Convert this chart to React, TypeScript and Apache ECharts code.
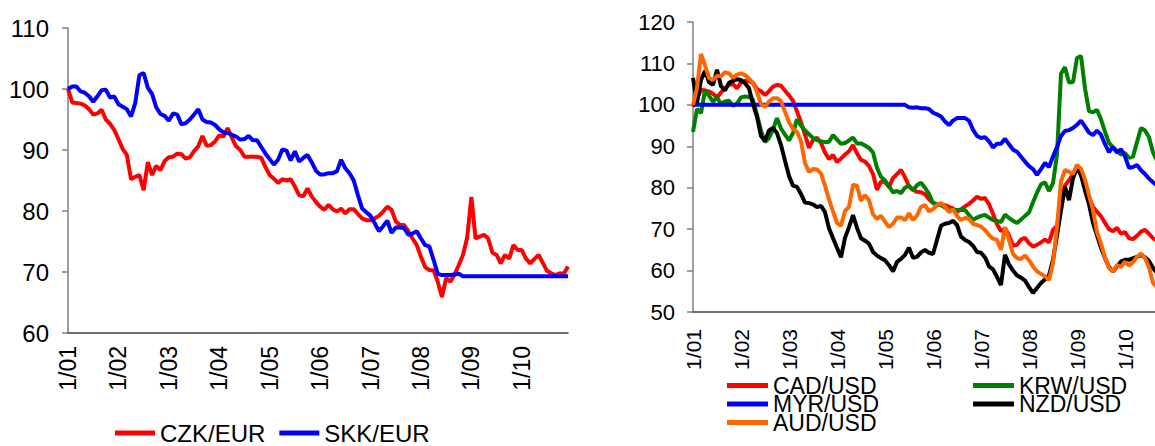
import React, { useEffect, useRef } from "react";
import * as echarts from "echarts";

// Monthly categories Jan 2001 .. Dec 2010
const years = ["01", "02", "03", "04", "05", "06", "07", "08", "09", "10"];
const months = years.flatMap((y) => Array.from({ length: 12 }, (_, m) => `${m + 1}/${y}`));

const czkEur = [
  100, 97.8, 97.7, 97.6, 97.3, 96.7, 95.8, 96, 96.6, 95, 94.3, 93.3,
  91.8, 90.2, 89.2, 85.2, 85.6, 85.9, 83.4, 88, 85.9, 87.4, 86.7, 88.2,
  88.8, 88.9, 89.4, 89.3, 88.6, 88.8, 89.8, 90.6, 92.3, 90.7, 90.8, 91.4,
  92.4, 92.2, 93.6, 92, 90.6, 90, 88.9, 88.9, 88.9, 88.9, 88.7, 87.2,
  85.9, 85.3, 84.6, 85.2, 85, 85.2, 84, 82.6, 82.4, 83.7, 82.4, 81.5,
  80.7, 80.2, 81, 80.3, 79.9, 80.4, 79.6, 80.3, 80.3, 79.5, 78.8, 78.5,
  78.5, 78.8, 79.2, 79.9, 80.7, 80.2, 78.3, 77.7, 77.7, 76.7, 75.5, 74.4,
  72.5, 70.8, 70.3, 70.3, 68.4, 65.9, 69, 68.4, 69.6, 71.1, 72.8, 75.6,
  82.3, 75.5, 75.8, 76.1, 75.5, 73.2, 72.8, 71.4, 72.8, 72.2, 74.4, 73.6,
  73.6, 72.2, 71.4, 72.1, 72.8, 71.5, 70.2, 69.8, 69.5, 69.8, 69.7, 70.9,
];
const skkEur = [
  100, 100.4, 100.4, 99.6, 99.4, 98.8, 97.9, 98.8, 99.8, 99.9, 98.6, 98.8,
  97.5, 97.1, 96.7, 95.5, 97.7, 102.3, 102.6, 100.2, 99.2, 97, 95.9, 95.6,
  94.8, 96, 95.8, 94.2, 94.4, 95, 95.8, 96.7, 95, 94.6, 94.5, 94.1,
  93.4, 92.9, 92.8, 92.5, 92.2, 91.7, 91.8, 92.3, 91.6, 91.6, 90.5, 89.4,
  88.5, 87.6, 88.4, 90.1, 89.9, 88.3, 89.8, 88.1, 88.7, 89.2, 88, 86.6,
  86, 86, 86.2, 86.2, 86.5, 88.4, 87, 86.2, 85, 82.6, 80.4, 79.8,
  79.2, 78, 76.7, 77.5, 78.4, 76.4, 77.3, 77.3, 77.2, 76.1, 76.3, 76.7,
  75.5, 74.4, 74.2, 72, 69.7, 69.5, 69.5, 69.5, 69.6, 69.7, 69.3, 69.3,
  69.3, 69.3, 69.3, 69.3, 69.3, 69.3, 69.3, 69.3, 69.3, 69.3, 69.3, 69.3,
  69.3, 69.3, 69.3, 69.3, 69.3, 69.3, 69.3, 69.3, 69.3, 69.3, 69.3, 69.3,
];

const cadUsd = [
  99.5, 101.5, 103.6, 103.5, 103.2, 102.7, 101.8, 103, 104, 104.8, 105, 104,
  105.4, 105.8, 105.7, 105.3, 103.8, 103.3, 102.4, 103.3, 104.4, 104.8, 104.6, 103.4,
  102.3, 101, 98.4, 95.8, 92.8, 89.6, 91.5, 92.1, 90.8, 88.5, 86.9, 87.9,
  86.2, 87, 88, 88.8, 90.3, 88.3, 86.7, 86.3, 85.2, 83.3, 79.5, 81.5,
  81.4, 80.2, 82.3, 83.3, 84.3, 82.5, 80.3, 79.5, 79, 78.9, 78.4, 77.2,
  76.3, 76.1, 75.9, 75.8, 75.4, 75, 74.2, 74.8, 75.5, 76.1, 76.9, 77.8,
  77.3, 77.5, 76, 73.7, 71.2, 69.5, 70.2, 68.5, 66, 66.2, 67.5, 67.9,
  66.6, 65.8, 66.2, 66.8, 67.5, 66.8, 69.8, 70.8, 77, 80.5, 81.8, 83.3,
  85.2, 83, 81, 77.8, 75.3, 74.2, 73.1, 71.5, 70, 69.5, 70.3, 68.9,
  69.3, 67.8, 67.6, 68.4, 69.4, 69.8, 68.9, 67.8, 67.2, 67, 67.5, 68,
];
const krwUsd = [
  93.5, 99, 98, 103.5, 102.2, 100.8, 101.8, 100.2, 100.8, 101, 99.8, 100.3,
  101.8, 102, 101.9, 101.2, 97.6, 93.8, 91, 92, 94, 96.8, 94.3, 92.8,
  91.4, 93.2, 96.5, 95, 93.8, 92.9, 92, 91.5, 91.2, 91, 91.1, 92.7,
  91.6, 90.6, 90.8, 91.4, 92.1, 90.7, 90.7, 90.2, 89.6, 88.5, 84.8, 82.6,
  81.8, 80.3, 78.9, 79.2, 78.7, 80, 80.5, 79.4, 80.6, 81.2, 80, 78.5,
  76.3, 76, 75.8, 75.2, 74.6, 74.6, 74.6, 74.6, 74.6, 73.4, 72.2, 72.8,
  73.2, 73.4, 72.8, 72.2, 72, 71.7, 73.5, 72.7, 72, 71.5, 72.3, 73.2,
  74, 76.5, 78.8, 80.8, 81.3, 79.2, 81.1, 88, 107.5, 109.1, 105.4, 105.5,
  111.3, 111.8, 104, 98.5, 98.2, 98.8, 96.5, 93.5, 90.8, 89.8, 88.8, 88,
  88.4, 87.2, 87.5, 91, 94.4, 93.8, 92.2, 88.5, 86.5, 86, 85.5, 85,
];
const myrUsd = [
  100, 100, 100, 100, 100, 100, 100, 100, 100, 100, 100, 100,
  100, 100, 100, 100, 100, 100, 100, 100, 100, 100, 100, 100,
  100, 100, 100, 100, 100, 100, 100, 100, 100, 100, 100, 100,
  100, 100, 100, 100, 100, 100, 100, 100, 100, 100, 100, 100,
  100, 100, 100, 100, 100, 100, 99.4, 99.3, 99.4, 99.2, 99.2, 99,
  98.1, 97.7, 97.2, 96, 95.1, 96.2, 96.8, 96.8, 96.8, 96.2, 94, 92.5,
  92, 92.2, 91.2, 89.7, 90.6, 90.6, 91.8, 90.5, 89.2, 88.7, 87.5, 86.3,
  85.2, 84.5, 83.1, 84.5, 86, 85, 87.5, 89.8, 92.5, 93.7, 93.9, 94.4,
  95.2, 96.2, 94.8, 93.3, 92.7, 93.8, 92.8, 90.5, 88.6, 89.8, 88.5, 89.3,
  87.5, 84.8, 85, 85.5, 84.2, 83.3, 82.2, 81.3, 80.5, 80, 80.2, 80.5,
];
const nzdUsd = [
  106.5, 100.5, 106, 108.2, 105.5, 104.8, 108.5, 104.5, 103.5, 105.3, 105.8, 106.2,
  106, 105.2, 104, 100.2, 97.1, 92.5, 91.3, 93.8, 94.4, 93.2, 90.3, 86.5,
  82.8, 80.5, 80.2, 78.5, 76.4, 76.3, 76, 75.3, 75.6, 74.1, 70.2, 67.8,
  65.5, 63.2, 67.9, 70.5, 73.4, 70.3, 67.8, 67.2, 66.5, 64.5, 63.6, 63,
  62.5, 61.3, 59.8, 62.1, 62.8, 63.8, 65.5, 63.1, 63.3, 64.4, 65, 64.3,
  64, 67.4, 70.8, 71.3, 71.5, 72, 71, 68.2, 67.4, 66.9, 66, 64.5,
  64.3, 63.2, 61, 60.3, 58.5, 56.5, 63.8, 61.5, 60, 58.8, 58.3, 57.6,
  56, 54.6, 55.8, 57, 57.9, 58.8, 62.6, 68.5, 74.5, 80.2, 77, 82.3,
  84.8, 83, 79.3, 76, 71.5, 68.5, 65.5, 63, 60.8, 59.8, 61, 62.2,
  62.6, 62.6, 63, 63.3, 63.7, 63.2, 62.3, 60.6, 59.5, 59, 59.5, 60,
];
const audUsd = [
  100, 104, 112.3, 109.5, 106.5, 106, 107, 106.9, 107.9, 107.6, 106.5, 107.3,
  107.6, 107.2, 106.3, 105.3, 103.1, 100.2, 99.5, 100.8, 101.6, 101.6, 100.9, 98.3,
  95.8, 94.2, 93.5, 91.2, 86, 83.8, 84.5, 84.4, 83.4, 80.5, 77.2, 74.3,
  71.5, 70.8, 74.4, 75.4, 80.7, 80.5, 76.8, 78.2, 77, 73.6, 72.5, 73.2,
  71.8, 70.5, 71.3, 72.8, 72.8, 72.2, 73.8, 72.2, 73.3, 75.4, 75.8, 74.3,
  74.8, 75.8, 76.3, 75.5, 74.1, 74.8, 73.2, 72.2, 72.7, 72.5, 71.3, 71,
  70.6, 69.8, 68.6, 67.7, 67.4, 65, 70.5, 67.4, 64, 63, 62.8, 63.6,
  62.5, 61, 59.8, 59.2, 58.6, 57.7, 61.8, 70.5, 81.5, 84.3, 83.8, 83.3,
  85.5, 84.6, 82, 78.2, 74.6, 69.3, 66.5, 63.2, 60.6, 59.8, 61.3, 60.9,
  62.1, 61.2, 62, 63.3, 64.1, 63, 60.8, 57, 56, 55.5, 56, 57,
];

const FONT = "'Liberation Sans', Arial, sans-serif";

function App() {
  const ref = useRef<HTMLDivElement>(null);
  useEffect(() => {
    if (!ref.current) return;
    const chart = echarts.init(ref.current, null, { renderer: "svg" });
    const xAxisBase = (gridIndex: number, fs: number, margin: number) => ({
      type: "category",
      gridIndex,
      data: months,
      boundaryGap: false,
      axisLine: { show: true, lineStyle: { color: "#404040", width: 1.5 } },
      axisTick: { show: false },
      axisLabel: {
        interval: 11,
        rotate: 90,
        color: "#000",
        fontSize: fs,
        fontFamily: FONT,
        margin,
      },
      splitLine: { show: false },
    });
    const yAxisBase = (gridIndex: number, min: number, max: number, fs: number, margin: number) => ({
      type: "value",
      gridIndex,
      min,
      max,
      interval: 10,
      axisLine: { show: true, lineStyle: { color: "#808080", width: 1.5 } },
      axisTick: { show: true, length: 6, lineStyle: { color: "#808080", width: 1.5 } },
      axisLabel: { color: "#000", fontSize: fs, fontFamily: FONT, margin },
      splitLine: { show: false },
    });
    const line = (name: string, data: number[], color: string, idx: number) => ({
      name,
      type: "line",
      data,
      xAxisIndex: idx,
      yAxisIndex: idx,
      symbol: "none",
      lineStyle: { color, width: 4 },
      itemStyle: { color },
    });
    const legendText = (fs: number) => ({
      color: "#000",
      fontSize: fs,
      fontFamily: FONT,
    });
    chart.setOption({
      animation: false,
      backgroundColor: "#fff",
      grid: [
        { left: 68, top: 28, width: 500, height: 305 },
        { left: 693, top: 22, width: 476, height: 290 },
      ],
      xAxis: [xAxisBase(0, 23, 13), xAxisBase(1, 21, 17)],
      yAxis: [yAxisBase(0, 60, 110, 24, 19), yAxisBase(1, 50, 120, 22, 18)],
      legend: [
        {
          data: ["CZK/EUR", "SKK/EUR"],
          orient: "horizontal",
          left: 115,
          top: 421,
          itemWidth: 40,
          itemHeight: 5,
          itemGap: 14,
          icon: "rect",
          padding: 0,
          textStyle: legendText(24),
        },
        {
          data: ["CAD/USD", "MYR/USD", "AUD/USD"],
          orient: "vertical",
          left: 727,
          top: 374,
          itemWidth: 41,
          itemHeight: 5,
          itemGap: -4.5,
          icon: "rect",
          padding: 0,
          textStyle: legendText(23),
        },
        {
          data: ["KRW/USD", "NZD/USD"],
          orient: "vertical",
          left: 973,
          top: 374,
          itemWidth: 41,
          itemHeight: 5,
          itemGap: -4.5,
          icon: "rect",
          padding: 0,
          textStyle: legendText(23),
        },
      ],
      series: [
        line("CZK/EUR", czkEur, "#FF0000", 0),
        line("SKK/EUR", skkEur, "#0000FF", 0),
        line("CAD/USD", cadUsd, "#FF0000", 1),
        line("KRW/USD", krwUsd, "#008000", 1),
        line("MYR/USD", myrUsd, "#0000FF", 1),
        line("NZD/USD", nzdUsd, "#000000", 1),
        line("AUD/USD", audUsd, "#FF6600", 1),
      ],
    });
    return () => chart.dispose();
  }, []);
  return (
    <div
      style={{
        position: "fixed",
        left: 0,
        top: 0,
        width: 1155,
        height: 446,
        overflow: "hidden",
        background: "#fff",
      }}
    >
      <div ref={ref} style={{ width: 1180, height: 446 }} />
    </div>
  );
}

export default App;
